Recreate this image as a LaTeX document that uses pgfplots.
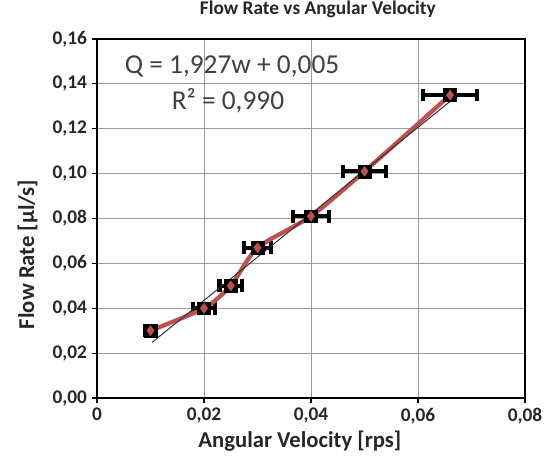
\documentclass[border=0pt]{standalone}
\usepackage{pgfplots}
\pgfplotsset{compat=1.18}
\usepackage{fontspec}
\setmainfont{Carlito}
\usetikzlibrary{calc}
\definecolor{excelred}{HTML}{C0504D}
\definecolor{gridgray}{HTML}{9A9A9A}

\begin{document}
\begin{tikzpicture}
\begin{axis}[
name=ax,
scale only axis,
width=321pt, height=269.25pt,
xmin=0, xmax=0.08,
ymin=0, ymax=0.16,
xtick={0,0.02,0.04,0.06,0.08},
ytick={0,0.02,0.04,0.06,0.08,0.10,0.12,0.14,0.16},
xtick pos=bottom, ytick pos=left,
tick align=outside,
major tick length=4pt,
tick style={black, line width=0.9pt},
scaled ticks=false,
/pgf/number format/assume math mode=true,
xticklabel style={/pgf/number format/.cd, fixed, precision=2, use comma},
yticklabel style={/pgf/number format/.cd, fixed, fixed zerofill, precision=2, use comma},
ticklabel style={font=\bfseries\fontsize{14.5}{16}\selectfont, text=black!85},
grid=major,
major grid style={gridgray, line width=0.7pt},
axis line style={black, line width=0.9pt},
title={Flow Rate vs Angular Velocity},
title style={font=\bfseries\fontsize{14.5}{16}\selectfont, text=black!85, at={(0.516,1.0446)}, anchor=base},
xlabel={Angular Velocity [rps]},
xlabel style={font=\bfseries\fontsize{17}{19}\selectfont, text=black!85, at={(0.474,-0.1365)}, anchor=base},
ylabel={Flow Rate [µl/s]},
ylabel style={font=\bfseries\fontsize{17}{19}\selectfont, text=black!85, at={(-0.147,0.40)}, anchor=base},
clip=false,
]
% measurements with horizontal error bars
\addplot[only marks, black, mark=square*, mark size=4.8pt,
  error bars/.cd, x dir=both, x explicit,
  error bar style={line width=3pt, black},
  error mark options={rotate=90, black, line width=3.2pt, mark size=4.8pt}]
coordinates {
(0.010,0.030) +- (0.0010,0)
(0.020,0.040) +- (0.0020,0)
(0.025,0.050) +- (0.0021,0)
(0.030,0.067) +- (0.0025,0)
(0.040,0.081) +- (0.0033,0)
(0.050,0.101) +- (0.0040,0)
(0.066,0.135) +- (0.0050,0)
};
% smoothed connecting line
\addplot[excelred, line width=3.2pt, smooth, tension=0.4, mark=diamond*, mark size=3.6pt,
  mark options={fill=excelred, draw=excelred, line width=0.5pt}]
coordinates {
(0.010,0.030) (0.020,0.040) (0.025,0.050) (0.030,0.067)
(0.040,0.081) (0.050,0.101) (0.066,0.135)
};
% linear trendline
\addplot[black!80, line width=0.75pt] coordinates {(0.0103,0.0248) (0.0660,0.1322)};
\node[anchor=base west, font=\fontsize{20.5}{22}\selectfont, text=black!75] at (rel axis cs:0.054,0.905) {Q = 1,927w + 0,005};
\node[anchor=base, font=\fontsize{20.5}{22}\selectfont, text=black!75] at (rel axis cs:0.306,0.805) {R² = 0,990};
\end{axis}
\pgfresetboundingbox
\path[use as bounding box] ($(ax.south west)+(-72.75pt,-47.25pt)$) rectangle ($(ax.north east)+(14.25pt,29.25pt)$);
\end{tikzpicture}
\end{document}
